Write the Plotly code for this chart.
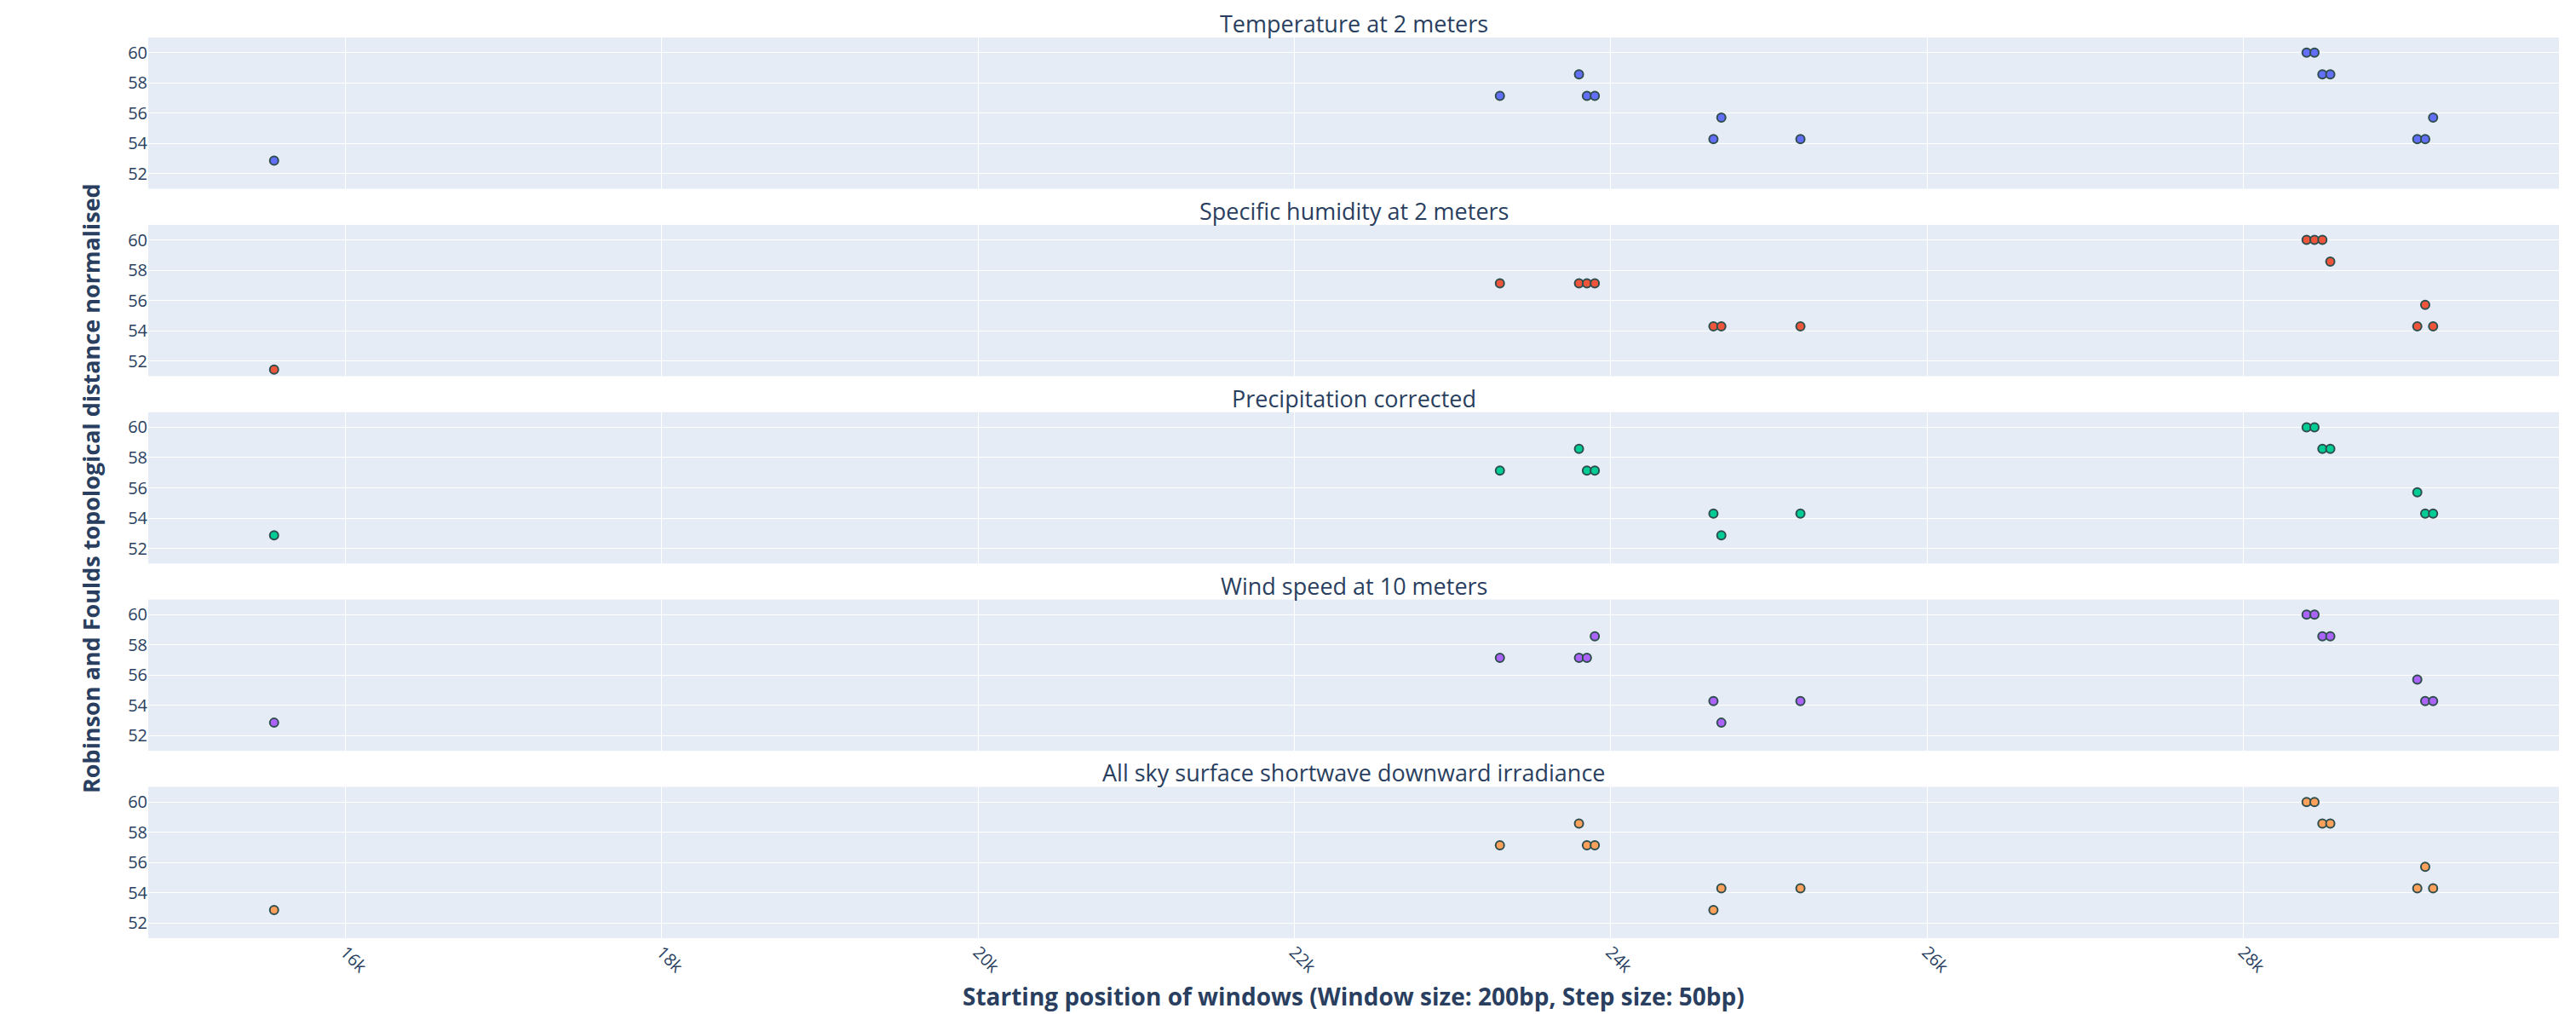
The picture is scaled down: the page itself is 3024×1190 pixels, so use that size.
import plotly.graph_objects as go
from plotly.subplots import make_subplots

# Window start positions (bp) shared by every variable
window_start = [15550, 23300, 23800, 23850, 23900, 24650, 24700, 25200,
                28400, 28450, 28500, 28550, 29100, 29150, 29200]

# Normalised Robinson-Foulds distance per climate variable
temperature = [52.86, 57.14, 58.57, 57.14, 57.14, 54.29, 55.71, 54.29,
               60.0, 60.0, 58.57, 58.57, 54.29, 54.29, 55.71]
humidity = [51.43, 57.14, 57.14, 57.14, 57.14, 54.29, 54.29, 54.29,
            60.0, 60.0, 60.0, 58.57, 54.29, 55.71, 54.29]
precipitation = [52.86, 57.14, 58.57, 57.14, 57.14, 54.29, 52.86, 54.29,
                 60.0, 60.0, 58.57, 58.57, 55.71, 54.29, 54.29]
wind_speed = [52.86, 57.14, 57.14, 57.14, 58.57, 54.29, 52.86, 54.29,
              60.0, 60.0, 58.57, 58.57, 55.71, 54.29, 54.29]
irradiance = [52.86, 57.14, 58.57, 57.14, 57.14, 52.86, 54.29, 54.29,
              60.0, 60.0, 58.57, 58.57, 54.29, 55.71, 54.29]

titles = ["Temperature at 2 meters",
          "Specific humidity at 2 meters",
          "Precipitation corrected",
          "Wind speed at 10 meters",
          "All sky surface shortwave downward irradiance"]
series = [temperature, humidity, precipitation, wind_speed, irradiance]
colors = ["#636efa", "#EF553B", "#00cc96", "#ab63fa", "#FFA15A"]

fig = make_subplots(rows=5, cols=1, shared_xaxes=True,
                    vertical_spacing=0.04, subplot_titles=titles)

for i, (vals, col, name) in enumerate(zip(series, colors, titles), start=1):
    fig.add_trace(
        go.Scatter(x=window_start, y=vals, mode="markers", name=name,
                   marker=dict(size=10, color=col,
                               line=dict(width=2, color="DarkSlateGrey"))),
        row=i, col=1)
    fig.update_yaxes(range=[51, 61], tickvals=[52, 54, 56, 58, 60],
                     tickfont=dict(size=20), row=i, col=1)

fig.update_xaxes(tickangle=45, tickfont=dict(size=20))
fig.update_annotations(font=dict(size=27), yshift=-4)

fig.add_annotation(text="<b>Starting position of windows (Window size: 200bp, Step size: 50bp)</b>",
                   x=0.5, y=0, xref="paper", yref="paper",
                   xanchor="center", yanchor="top", yshift=-47,
                   showarrow=False, font=dict(size=28))
fig.add_annotation(text="<b>Robinson and Foulds topological distance normalised</b>",
                   x=0, y=0.5, xref="paper", yref="paper",
                   xanchor="right", yanchor="middle", xshift=-47,
                   textangle=-90, showarrow=False, font=dict(size=27))

fig.update_layout(width=3024, height=1190, showlegend=False,
                  template="plotly",
                  margin=dict(l=174, r=20, t=44, b=89))

fig.write_html("out.html")
